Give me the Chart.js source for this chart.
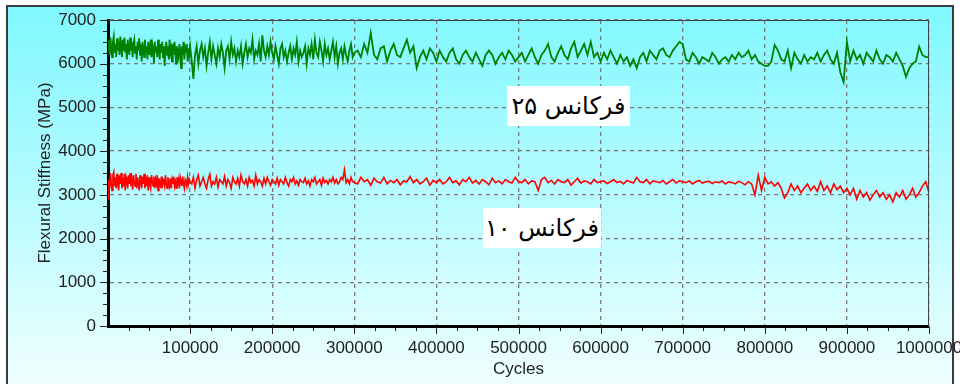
<!DOCTYPE html>
<html>
<head>
<meta charset="utf-8">
<script src="https://cdn.jsdelivr.net/npm/chart.js@4/dist/chart.umd.min.js"></script>
<style>
  html, body { margin: 0; padding: 0; background: #fff; overflow: hidden; }
  #wrap { position: relative; width: 960px; height: 384px; }
  #frame {
    position: absolute; left: 6px; top: 5px; width: 944px; height: 400px;
    border: 2px solid #3a3a3a;
    background: linear-gradient(to bottom, #80f8ff 0px, #b6fbff 190px, #f2ffff 384px);
  }
  #chart { position: absolute; left: 0; top: 0; }
  .note {
    position: absolute; background: #fff; height: 40px; line-height: 40px;
    font-family: "DejaVu Sans", sans-serif; font-size: 24px; color: #000;
    text-align: center; direction: rtl;
  }
</style>
</head>
<body>
<div id="wrap">
  <div id="frame"></div>
  <canvas id="chart" width="960" height="384"></canvas>
  <div class="note" style="left:507px; top:86px; width:123px;">فرکانس ۲۵</div>
  <div class="note" style="left:483px; top:208px; width:118px;">فرکانس ۱۰</div>
</div>
<script>
'use strict';

// Cycles, in thousands (denser sampling early in the test)
const CYCLES_K = [
    0,1,2,3,4,5,6,7,8,9,10,11,12,13,14,15,16,17,18,19,20,21,22,23,24,25,26,27,28,29,30,
    31,32,33,34,35,36,37,38,39,40,41,42,43,44,45,46,47,48,49,50,51,52,53,54,55,56,57,58,59,60,
    61,62,63,64,65,66,67,68,69,70,71,72,73,74,75,76,77,78,79,80,81,82,83,84,85,86,87,88,89,90,
    91,92,93,94,95,96,97,98,99,100,
    102,104,106,108,110,112,114,116,118,120,122,124,126,128,130,132,134,136,138,140,
    142,144,146,148,150,152,154,156,158,160,162,164,166,168,170,172,174,176,178,180,
    182,184,186,188,190,192,194,196,198,200,
    202,204,206,208,210,212,214,216,218,220,222,224,226,228,230,232,234,236,238,240,
    242,244,246,248,250,252,254,256,258,260,262,264,266,268,270,272,274,276,278,280,
    282,284,286,288,290,292,294,296,298,300,
    304,308,312,316,320,324,328,332,336,340,344,348,352,356,360,364,368,372,376,380,384,388,392,396,400,
    404,408,412,416,420,424,428,432,436,440,444,448,452,456,460,464,468,472,476,480,484,488,492,496,500,
    504,508,512,516,520,524,528,532,536,540,544,548,552,556,560,564,568,572,576,580,584,588,592,596,600,
    604,608,612,616,620,624,628,632,636,640,644,648,652,656,660,664,668,672,676,680,684,688,692,696,700,
    704,708,712,716,720,724,728,732,736,740,744,748,752,756,760,764,768,772,776,780,784,788,792,796,800,
    804,808,812,816,820,824,828,832,836,840,844,848,852,856,860,864,868,872,876,880,884,888,892,896,900,
    904,908,912,916,920,924,928,932,936,940,944,948,952,956,960,964,968,972,976,980,984,988,992,996,1000
];

// فرکانس ۲۵ (MPa)
const FREQ25 = [
    6300,6550,6200,6600,6350,6150,6500,6620,6250,6450,
    6150,6580,6300,6500,6200,6620,6400,6150,6550,6300,
    6600,6250,6450,6100,6550,6350,6200,6600,6300,6500,
    6150,6450,6550,6250,6400,6100,6500,6300,6580,6200,
    6450,6050,6500,6350,6150,6550,6250,6400,6100,6500,
    6300,6200,6550,6150,6450,6350,6000,6500,6250,6400,
    6150,6550,6300,6100,6450,6250,6500,6150,6400,5950,
    6350,6500,6200,6400,6100,6550,6250,6350,6050,6450,
    6200,6500,6300,6000,6400,6250,6150,6450,6300,5900,
    6400,6200,6500,6100,6350,6250,6450,6050,6350,6200,
    6400,
    6050,5650,6200,6400,6000,6300,6450,6150,6350,5950,
    6250,6500,6100,6400,6200,6000,6350,6150,6450,6250,
    5900,6300,6400,6100,6500,6200,6350,6050,6300,6150,
    6400,6000,6250,6450,6150,6350,6250,6550,6100,6300,
    6200,6450,6050,6650,6300,6150,6400,6200,6500,6250,
    6100,6400,6200,6000,6350,6450,6150,6300,6050,6250,
    6400,6100,6350,6200,6500,6050,6300,6150,6250,6400,
    6000,6350,6200,6450,6100,6550,6250,6150,6500,6300,
    6050,6450,6200,6350,6100,6300,6500,6150,6400,6000,
    6250,6350,6100,6400,6200,6050,6300,6450,6150,6250,
    6300,6150,6450,6250,6700,6200,6100,6350,6400,6050,
    6300,6450,6200,6150,6350,6550,6250,6400,5900,6150,
    6300,6100,6350,6250,6050,
    6300,6150,6050,6250,6350,6100,6000,6200,6300,6150,
    6050,6250,6100,5950,6200,6300,6200,6000,6150,6250,
    6100,6300,6200,6050,6150,
    6250,6050,6200,6350,6150,6000,6200,6300,6450,6150,
    6050,6250,6400,6200,6100,6350,6500,6150,6300,6450,
    6200,6500,6150,6250,6050,
    6250,6100,6300,6150,6000,6200,6050,6150,5950,6100,
    5900,6150,6250,6050,6300,6200,6100,6300,6350,6200,
    6150,6300,6400,6500,6450,
    6100,6050,6250,6150,6000,6150,6100,6050,6250,6150,
    6000,6100,6150,6050,6200,6100,6250,6150,6200,6300,
    6100,6200,6050,6000,5950,
    5950,6050,6430,6300,6100,6050,6300,5900,6250,6100,
    6000,6200,6050,6150,6100,6250,6050,6200,6300,6100,
    6000,6250,5800,5580,6500,
    6050,6300,6100,6200,6000,6250,6150,6050,6300,6100,
    6000,6200,6150,6050,6250,6100,5950,5700,5900,6000,
    6050,6390,6200,6150,6150
];

// فرکانس ۱۰ (MPa)
const FREQ10 = [
    2900,3350,3150,3500,3250,3100,3450,3520,3200,3400,
    3150,3480,3300,3100,3450,3250,3500,3150,3380,3200,
    3480,3100,3400,3300,3150,3450,3250,3500,3200,3350,
    3120,3450,3300,3200,3480,3150,3400,3250,3100,3450,
    3300,3150,3420,3250,3480,3150,3350,3200,3450,3100,
    3400,3250,3150,3450,3300,3200,3420,3150,3350,3250,
    3450,3100,3380,3250,3200,3420,3150,3350,3300,3200,
    3450,3250,3150,3400,3300,3200,3380,3150,3350,3250,
    3420,3200,3300,3150,3400,3250,3350,3150,3400,3300,
    3200,3420,3250,3150,3350,3300,3200,3400,3250,3350,
    3300,
    3250,3400,3150,3350,3450,3200,3300,3400,3250,3150,
    3350,3470,3200,3300,3250,3400,3180,3350,3300,3250,
    3420,3200,3350,3280,3150,3400,3300,3250,3380,3200,
    3450,3300,3250,3350,3200,3400,3280,3330,3200,3450,
    3250,3350,3300,3200,3380,3250,3400,3300,3220,3350,
    3300,3250,3380,3220,3350,3300,3250,3400,3280,3200,
    3350,3300,3400,3250,3320,3220,3350,3300,3280,3380,
    3250,3320,3200,3350,3300,3400,3250,3300,3350,3220,
    3380,3280,3330,3250,3350,3300,3400,3270,3350,3250,
    3300,3400,3350,3570,3280,3350,3250,3400,3300,3280,
    3250,3400,3300,3350,3220,3380,3300,3270,3400,3250,
    3330,3280,3350,3230,3320,3300,3420,3280,3350,3250,
    3300,3380,3220,3330,3280,
    3350,3250,3300,3400,3280,3320,3230,3350,3300,3400,
    3270,3330,3250,3350,3300,3230,3380,3280,3320,3250,
    3350,3300,3270,3400,3300,
    3280,3350,3250,3320,3300,3100,3350,3400,3280,3330,
    3250,3350,3300,3280,3350,3220,3300,3380,3270,3320,
    3300,3250,3350,3280,3300,
    3320,3260,3300,3350,3280,3310,3250,3330,3300,3270,
    3400,3300,3280,3350,3250,3320,3300,3280,3330,3250,
    3300,3350,3270,3320,3300,
    3280,3320,3250,3300,3330,3270,3300,3310,3260,3300,
    3280,3320,3250,3300,3280,3250,3310,3280,3230,3300,
    3250,3000,3450,3100,3400,
    3250,3300,3200,3280,3150,2930,3050,3250,3100,3200,
    3050,3150,3250,3100,3200,3080,3300,3100,3200,3050,
    3250,3120,3200,3050,3150,
    3000,3150,2900,3100,2950,3050,2880,3000,3100,2950,
    3050,2900,3000,2840,3050,2950,3100,2900,3000,3150,
    2950,3050,3200,3300,3050
];

const X_MAX = 1000000, X_STEP = 100000, X_MINOR = 25000;
const Y_MAX = 7000,    Y_STEP = 1000,   Y_MINOR = 250;

const toPoints = vals => CYCLES_K.map((c, i) => ({ x: c * 1000, y: vals[i] }));

// ── Minor ticks + thin top/right frame ───────────────────────────────────────

const axisExtras = {
    id: 'axisExtras',
    afterDraw(chart) {
        const { ctx, chartArea: a, scales: { x, y } } = chart;
        ctx.save();
        ctx.strokeStyle = '#444';
        ctx.lineWidth = 1;
        ctx.beginPath();
        ctx.moveTo(a.left, a.top + 0.5);
        ctx.lineTo(a.right - 0.5, a.top + 0.5);
        ctx.lineTo(a.right - 0.5, a.bottom);
        ctx.stroke();

        ctx.strokeStyle = '#222';
        for (let v = X_MINOR; v <= X_MAX; v += X_MINOR) {
            const px = Math.round(x.getPixelForValue(v)) + 0.5;
            const len = v % X_STEP === 0 ? 7 : 4;
            ctx.beginPath(); ctx.moveTo(px, a.bottom + 1); ctx.lineTo(px, a.bottom + 1 + len); ctx.stroke();
        }
        for (let v = 0; v <= Y_MAX; v += Y_MINOR) {
            const py = Math.round(y.getPixelForValue(v)) + 0.5;
            const len = v % Y_STEP === 0 ? 7 : 4;
            ctx.beginPath(); ctx.moveTo(a.left - 1, py); ctx.lineTo(a.left - 1 - len, py); ctx.stroke();
        }
        ctx.restore();
    }
};

Chart.defaults.font.family = '"Liberation Sans", Arial, sans-serif';
Chart.defaults.font.size = 17;
Chart.defaults.color = '#222';

new Chart(document.getElementById('chart'), {
    type: 'line',
    data: {
        datasets: [
            { data: toPoints(FREQ25), borderColor: '#008000', borderWidth: 1.8, pointRadius: 0, tension: 0 },
            { data: toPoints(FREQ10), borderColor: '#ff0000', borderWidth: 1.6, pointRadius: 0, tension: 0 },
        ]
    },
    options: {
        responsive: false,
        animation: false,
        parsing: false,
        layout: { padding: { top: 20, right: 31, left: 0, bottom: 0 } },
        plugins: { legend: { display: false }, tooltip: { enabled: false } },
        scales: {
            x: {
                type: 'linear', min: 0, max: X_MAX,
                afterFit: s => { s.height = 58; s.paddingLeft = 0; s.paddingRight = 0; },
                ticks: { stepSize: X_STEP, padding: 12, maxRotation: 0, autoSkip: false,
                         callback: v => v === 0 ? '' : String(v) },
                grid: { color: '#7a7a7a', lineWidth: 1.3, drawTicks: false },
                border: { color: '#000', width: 3, dash: [4, 4] },
                title: { display: true, text: 'Cycles', padding: { top: 0, bottom: 4 } },
            },
            y: {
                type: 'linear', min: 0, max: Y_MAX,
                afterFit: s => { s.width = 108; s.paddingTop = 0; s.paddingBottom = 0; },
                ticks: { stepSize: Y_STEP, padding: 12, callback: v => String(v) },
                grid: { color: '#7a7a7a', lineWidth: 1.3, drawTicks: false },
                border: { color: '#000', width: 3, dash: [4, 4] },
                title: { display: true, text: 'Flexural Stiffness (MPa)', padding: { top: 35, bottom: 0 } },
            }
        }
    },
    plugins: [axisExtras]
});
</script>
</body>
</html>
